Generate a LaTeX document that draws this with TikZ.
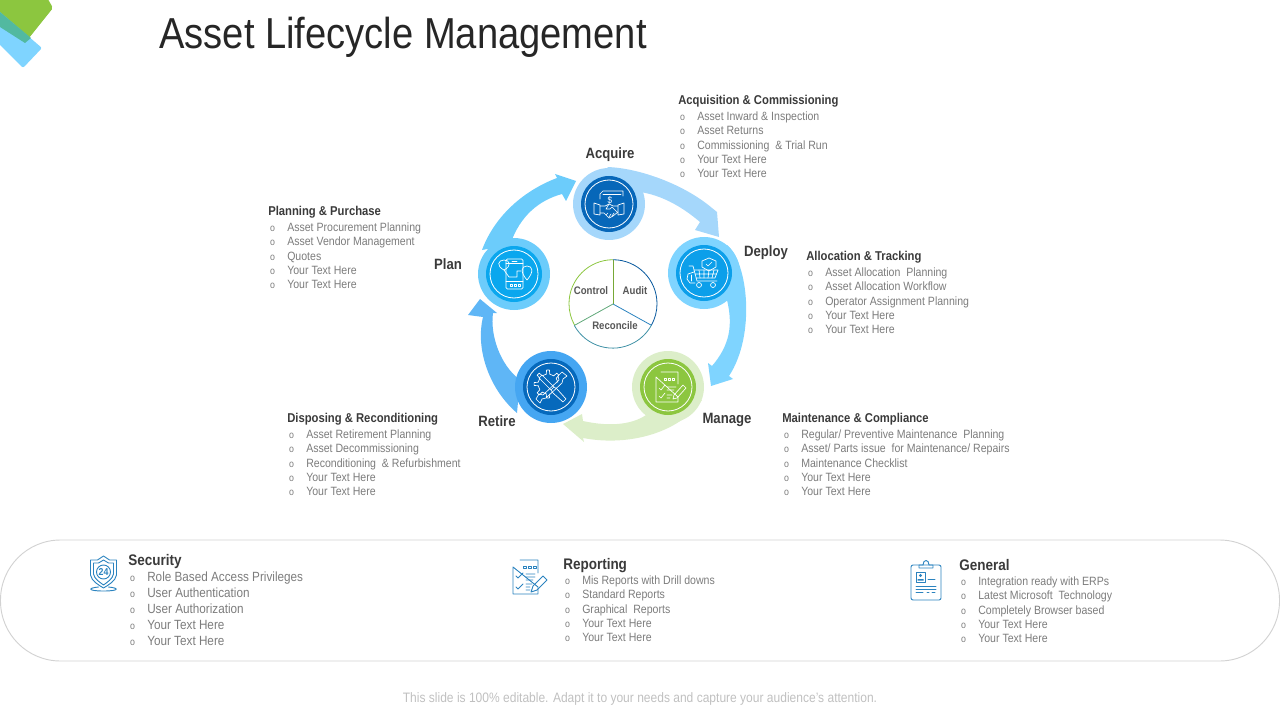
\documentclass[tikz,border=0pt]{standalone}
\usepackage{fontspec}
\setmainfont[FakeStretch=0.88]{Liberation Sans}
\definecolor{headgray}{HTML}{3A3A3A}
\definecolor{bodygray}{HTML}{7C7C7C}
\definecolor{footgray}{HTML}{C0C0C0}
\definecolor{bandgray}{HTML}{D2D2D2}
\definecolor{logoteal}{HTML}{52B9A0}
\definecolor{acqout}{HTML}{A5D7FB}
\definecolor{acqin}{HTML}{0767B9}
\definecolor{depout}{HTML}{7FD4FF}
\definecolor{depin}{HTML}{0C9FEA}
\definecolor{manout}{HTML}{DCEEC9}
\definecolor{manin}{HTML}{8CC63F}
\definecolor{retout}{HTML}{45A6F2}
\definecolor{retarrow}{HTML}{5FB6F6}
\definecolor{retin}{HTML}{0669BC}
\definecolor{plaout}{HTML}{6CCCFB}
\definecolor{plain}{HTML}{0AA7EE}
\definecolor{iconblue}{HTML}{2B83BF}
\newcommand{\ito}[1]{\makebox[14.25pt][l]{\hspace{1.4pt}{\fontsize{7.5}{8}\selectfont o}}#1}
\tikzset{
  listbox/.style={anchor=north west,inner sep=0pt,align=left,text=bodygray,font=\fontsize{9}{10.75}\selectfont},
  stagelabel/.style={inner sep=0pt,text=headgray,font=\fontsize{11.2}{13}\selectfont\bfseries},
  pielabel/.style={inner sep=0pt,text=headgray!85,font=\fontsize{8.2}{10}\selectfont\bfseries},
  stageout/.style={circle,inner sep=0pt,minimum size=54pt,fill=#1},
  stagein/.style={circle,inner sep=0pt,minimum size=42pt,fill=#1},
  stagering/.style={circle,inner sep=0pt,minimum size=36pt,draw=white,line width=0.6pt},
  iconline/.style={draw=white,line width=0.5pt,line join=round,line cap=round},
  bandicon/.style={draw=iconblue,line width=0.7pt,line join=round,line cap=round}
}
\begin{document}
\begin{tikzpicture}[x=0.75pt,y=-0.75pt]
\useasboundingbox (0,0) rectangle (1280,720);
% logo
\fill[manin,rounded corners=1.5pt] (-6,-6) -- (45,-6) -- (53,8) -- (25,43) -- (-6,22) -- cycle;
\fill[depout,rounded corners=1.5pt] (-6,7) -- (42,48) -- (23,68) -- (-6,39) -- cycle;
\fill[logoteal] (0,12) -- (31,38) -- (25,43) -- (0,27) -- cycle;
\node (title) [anchor=west,inner sep=0pt,text=black!85,font=\fontsize{32.5}{36}\selectfont] at (159,37) {Asset Lifecycle Management};
% arrows
\fill[acqout] (607,167) .. controls (640,168) and (685,185) .. (712,208) -- (717,212) -- (719,237) -- (695,230) -- (700,222) .. controls (680,205) and (660,195) .. (640,192) -- cycle;
\fill[depout] (727,245) .. controls (748,262) and (756,335) .. (729,376) -- (733,379) -- (711,386) -- (708,363) -- (712,366) .. controls (730,345) and (733,325) .. (727,300) -- cycle;
\fill[manout] (702,400) .. controls (680,432) and (630,447) .. (583,438) -- (584,442) -- (563,424) -- (582,414) -- (583,421) .. controls (610,427) and (635,425) .. (650,412) -- cycle;
\fill[retarrow] (517,413) .. controls (490,390) and (475,350) .. (483,317) -- (468,315) -- (480,299) -- (497,313) -- (493,313) .. controls (490,335) and (500,365) .. (520,380) -- cycle;
\fill[plaout] (482,250) .. controls (495,215) and (525,190) .. (557,178) -- (555,174) -- (576,181) -- (566,201) -- (562,194) .. controls (540,200) and (520,215) .. (510,245) -- cycle;
% stages
\node (acquire) [stageout=acqout] at (609,204) {};
\node (acquirein) [stagein=acqin] at (acquire) {};
\node (acquirering) [stagering] at (acquire) {};
\node (deploy) [stageout=depout] at (704,273) {};
\node (deployin) [stagein=depin] at (deploy) {};
\node (deployring) [stagering] at (deploy) {};
\node (manage) [stageout=manout] at (668,387) {};
\node (managein) [stagein=manin] at (manage) {};
\node (managering) [stagering] at (manage) {};
\node (retire) [stageout=retout] at (551,387) {};
\node (retirein) [stagein=retin] at (retire) {};
\node (retirering) [stagering] at (retire) {};
\node (plan) [stageout=plaout] at (514,274) {};
\node (planin) [stagein=plain] at (plan) {};
\node (planring) [stagering] at (plan) {};
% acquire icon
\begin{scope}[shift={(acquire)},iconline]
  \draw (-9,-5) -- (-9,-10) -- (-6,-13) -- (14,-13) -- (14,-8);
  \draw (-6,-10) -- (12,-10);
  \node (dollar) [inner sep=0pt,text=white,font=\fontsize{7}{8}\selectfont] at (1,-4) {\$};
  \draw (-15,-1) -- (-9,1) -- (-9,11) -- (-15,10) -- cycle;
  \draw (15,-1) -- (9,1) -- (9,11) -- (15,10) -- cycle;
  \draw (-9,2) -- (-4,2) -- (0,0) -- (4,2) -- (9,2);
  \draw (-9,9) -- (-5,9) -- (0,14) -- (4,12) -- (9,8);
  \draw (0,0) -- (-3,5) -- (1,5) -- (3,3) -- (8,8);
  \draw (-3,11) -- (-1,9) (0,13) -- (2,10) (3,12) -- (5,9);
\end{scope}
% deploy icon
\begin{scope}[shift={(deploy)},iconline]
  \draw (-15,-7) -- (-11,-7) -- (-7,8) -- (13,8);
  \draw (-10,-3) -- (14,-3) -- (11,5) -- (-8,5);
  \draw (-5,-3) -- (-4,5) (0,-3) -- (0,5) (5,-3) -- (4,5) (10,-3) -- (8,5) (-9,1) -- (12,1);
  \draw (-5,12) circle (2.5) (9,12) circle (2.5);
  \draw (5,-15) -- (12,-12) -- (12,-6) -- (5,-2) -- (-2,-6) -- (-2,-12) -- cycle;
  \draw (2,-9) -- (4,-7) -- (8,-11);
  \draw (-10,-1) -- (-16,1) -- (-17,6) -- (-14,10) -- (-9,10);
  \draw (-13,2) -- (-13,8);
\end{scope}
% plan icon
\begin{scope}[shift={(plan)},iconline]
  \draw[rounded corners=1pt] (-8,-15) rectangle (9,15);
  \draw (-8,-11) -- (9,-11) (-8,7) -- (9,7) (-2,-13) -- (3,-13);
  \draw (-4,10) rectangle (-2,12) (0,10) rectangle (2,12) (4,10) rectangle (6,12);
  \draw (-10,-4) .. controls (-18,-8) and (-16,-14) .. (-10,-14) .. controls (-4,-14) and (-2,-8) .. (-10,-4) -- cycle;
  \draw (13,6) .. controls (6,-2) and (7,-8) .. (13,-8) .. controls (19,-8) and (20,-2) .. (13,6) -- cycle;
  \draw (-10,-4) -- (-5,3) -- (3,3) -- (3,-3) -- (7,-3);
\end{scope}
% manage icon
\begin{scope}[shift={(manage)},iconline]
  \draw (-7,-15) -- (10,-15) -- (10,-3) (10,10) -- (10,15) -- (-12,15) -- (-12,-10) -- cycle;
  \draw (-4,-9) rectangle (-2,-7) (0,-9) rectangle (2,-7) (4,-9) rectangle (6,-7);
  \draw (-9,1) -- (-7,3) -- (-3,-2) (-1,0) -- (8,0) (-1,3) -- (6,3);
  \draw (-9,9) -- (-7,11) -- (-3,6) (-1,8) -- (4,8) (-1,11) -- (2,11);
  \draw (5,12) -- (6,8) -- (15,-2) -- (18,1) -- (9,11) -- cycle;
\end{scope}
% retire icon
\begin{scope}[shift={(retire)},iconline]
  \begin{scope}[shift={(-3,-3)}]
    \foreach \a in {90,135,180,225,270,315}
      \draw (\a-10:10) -- (\a-6:14) -- (\a+6:14) -- (\a+10:10) -- (\a+35:10);
  \end{scope}
  \draw (-12,-9) -- (-9,-12) -- (3,0) -- (0,3) -- cycle;
  \draw (3,0) -- (6,2) -- (15,12) -- (12,15) -- (2,6) -- (0,3);
  \draw (16,-11) -- (11,-15) -- (7,-11) -- (8,-7) -- (-8,8) -- (-12,7) -- (-15,12) -- (-11,16);
  \draw (16,-11) -- (12,-8) -- (11,-4) -- (-5,11) -- (-9,12) -- (-11,16);
\end{scope}
% pie
\node (pie) [circle,inner sep=0pt,minimum size=66pt] at (613,304) {};
\draw[manin!85!black,line width=0.6pt] (pie.center) -- (pie.90);
\draw[iconblue,line width=0.6pt] (pie.center) -- (pie.-29);
\draw[manin!55!iconblue,line width=0.6pt] (pie.center) -- (pie.209);
\draw[manin,line width=0.6pt] (pie.90) arc[start angle=90,end angle=209,radius=33pt];
\draw[acqin!85!black,line width=0.6pt] (pie.90) arc[start angle=90,end angle=-29,radius=33pt];
\draw[iconblue!80!manin,line width=0.6pt] (pie.209) arc[start angle=209,end angle=331,radius=33pt];
\node (control) [pielabel] at (591,291) {Control};
\node (audit) [pielabel] at (635,291) {Audit};
\node (reconcile) [pielabel] at (615,326) {Reconcile};
% stage labels
\node (lacquire) [stagelabel] at (610,154.5) {Acquire};
\node (ldeploy) [stagelabel] at (766,252.5) {Deploy};
\node (lmanage) [stagelabel] at (727,419.5) {Manage};
\node (lretire) [stagelabel] at (497,421) {Retire};
\node (lplan) [stagelabel] at (448,264) {Plan};
% lists
\node (acqlist) [listbox] at (678,95) {\textcolor{headgray}{\bfseries\fontsize{9.6}{10.75}\selectfont Acquisition \& Commissioning}\\[1.2pt]
  \ito{Asset Inward \& Inspection}\\\ito{Asset Returns}\\\ito{Commissioning \ \& Trial Run}\\\ito{Your Text Here}\\\ito{Your Text Here}};
\node (planlist) [listbox] at (268,206) {\textcolor{headgray}{\bfseries\fontsize{9.6}{10.75}\selectfont Planning \& Purchase}\\[1.2pt]
  \ito{Asset Procurement Planning}\\\ito{Asset Vendor Management}\\\ito{Quotes}\\\ito{Your Text Here}\\\ito{Your Text Here}};
\node (deplist) [listbox] at (806,251) {\textcolor{headgray}{\bfseries\fontsize{9.6}{10.75}\selectfont Allocation \& Tracking}\\[1.2pt]
  \ito{Asset Allocation \ Planning}\\\ito{Asset Allocation Workflow}\\\ito{Operator Assignment Planning}\\\ito{Your Text Here}\\\ito{Your Text Here}};
\node (retlist) [listbox] at (287,413) {\textcolor{headgray}{\bfseries\fontsize{9.6}{10.75}\selectfont Disposing \& Reconditioning}\\[1.2pt]
  \ito{Asset Retirement Planning}\\\ito{Asset Decommissioning}\\\ito{Reconditioning \ \& Refurbishment}\\\ito{Your Text Here}\\\ito{Your Text Here}};
\node (manlist) [listbox] at (782,413) {\textcolor{headgray}{\bfseries\fontsize{9.6}{10.75}\selectfont Maintenance \& Compliance}\\[1.2pt]
  \ito{Regular/ Preventive Maintenance \ Planning}\\\ito{Asset/ Parts issue \ for Maintenance/ Repairs}\\\ito{Maintenance Checklist}\\\ito{Your Text Here}\\\ito{Your Text Here}};
% band
\draw[bandgray,line width=0.7pt,rounded corners=45pt] (0.5,540) rectangle (1279.5,661);
\node (seclist) [listbox,font=\fontsize{10}{12}\selectfont] at (128,554) {\textcolor{headgray}{\bfseries\fontsize{11.5}{12}\selectfont Security}\\
  \ito{Role Based Access Privileges}\\\ito{User Authentication}\\\ito{User Authorization}\\\ito{Your Text Here}\\\ito{Your Text Here}};
\node (replist) [listbox] at (563,558) {\textcolor{headgray}{\bfseries\fontsize{11.5}{12}\selectfont Reporting}\\[0.5pt]
  \ito{Mis Reports with Drill downs}\\\ito{Standard Reports}\\\ito{Graphical \ Reports}\\\ito{Your Text Here}\\\ito{Your Text Here}};
\node (genlist) [listbox] at (959,559) {\textcolor{headgray}{\bfseries\fontsize{11.5}{12}\selectfont General}\\[0.5pt]
  \ito{Integration ready with ERPs}\\\ito{Latest Microsoft \ Technology}\\\ito{Completely Browser based}\\\ito{Your Text Here}\\\ito{Your Text Here}};
% security icon
\begin{scope}[shift={(103.5,573)},bandicon]
  \draw (-13,-13) -- (-6,-13) -- (0,-17) -- (6,-13) -- (13,-13) -- (13,2) .. controls (12,8) and (5,12) .. (0,15) .. controls (-5,12) and (-12,8) .. (-13,2) -- cycle;
  \draw (-10,-10) -- (-5,-10) -- (0,-13) -- (5,-10) -- (10,-10) -- (10,1) .. controls (9,6) and (4,9) .. (0,12) .. controls (-4,9) and (-9,6) .. (-10,1) -- cycle;
  \draw (0,-1) circle (7);
  \node (hours) [inner sep=0pt,text=iconblue,font=\fontsize{7.5}{8}\selectfont\bfseries] at (0,-1) {24};
  \draw (-5,14) .. controls (-16,15) and (-16,18) .. (0,18) .. controls (16,18) and (16,15) .. (5,14);
\end{scope}
% reporting icon
\begin{scope}[shift={(529,577)},bandicon]
  \draw (-9,-17) -- (9,-17) -- (9,-4) (9,10) -- (9,17) -- (-16,17) -- (-16,-10) -- cycle;
  \draw (-6,-11) rectangle (-3,-9) (-1,-11) rectangle (2,-9) (4,-11) rectangle (7,-9);
  \draw (-13,-1) -- (-11,1) -- (-6,-4) (-3,-3) -- (6,-3) (-3,0) -- (6,0) (-3,3) -- (4,3);
  \draw (-13,10) -- (-11,12) -- (-6,7) (-3,7) -- (3,7) (-3,10) -- (1,10) (-3,13) -- (1,13);
  \draw (2,15) -- (4,9) -- (14,-1) -- (18,3) -- (8,13) -- cycle;
\end{scope}
% general icon
\begin{scope}[shift={(926,581)},bandicon]
  \draw[rounded corners=1.5pt] (-15,-16) rectangle (15,19);
  \draw (-7,-16) -- (-7,-13) -- (7,-13) -- (7,-16) -- (3,-16) .. controls (3,-22) and (-3,-22) .. (-3,-16) -- cycle;
  \draw (-10,-9) rectangle (-1,1);
  \fill[iconblue] (-5.5,-5.5) circle (1.7) (-8.5,-0.5) -- (-8.5,-2) -- (-2.5,-2) -- (-2.5,-0.5) -- cycle;
  \draw (2,-2) -- (9,-2) (-10,5) -- (10,5) (-10,8) -- (10,8) (-10,11) -- (-3,11) (1,11) -- (3,11) (6,11) -- (9,11);
\end{scope}
\node (footer) [inner sep=0pt,text=footgray,font=\fontsize{10.25}{12}\selectfont] at (640,699) {This slide is 100\% editable. Adapt it to your needs and capture your audience's attention.};
\end{tikzpicture}
\end{document}
